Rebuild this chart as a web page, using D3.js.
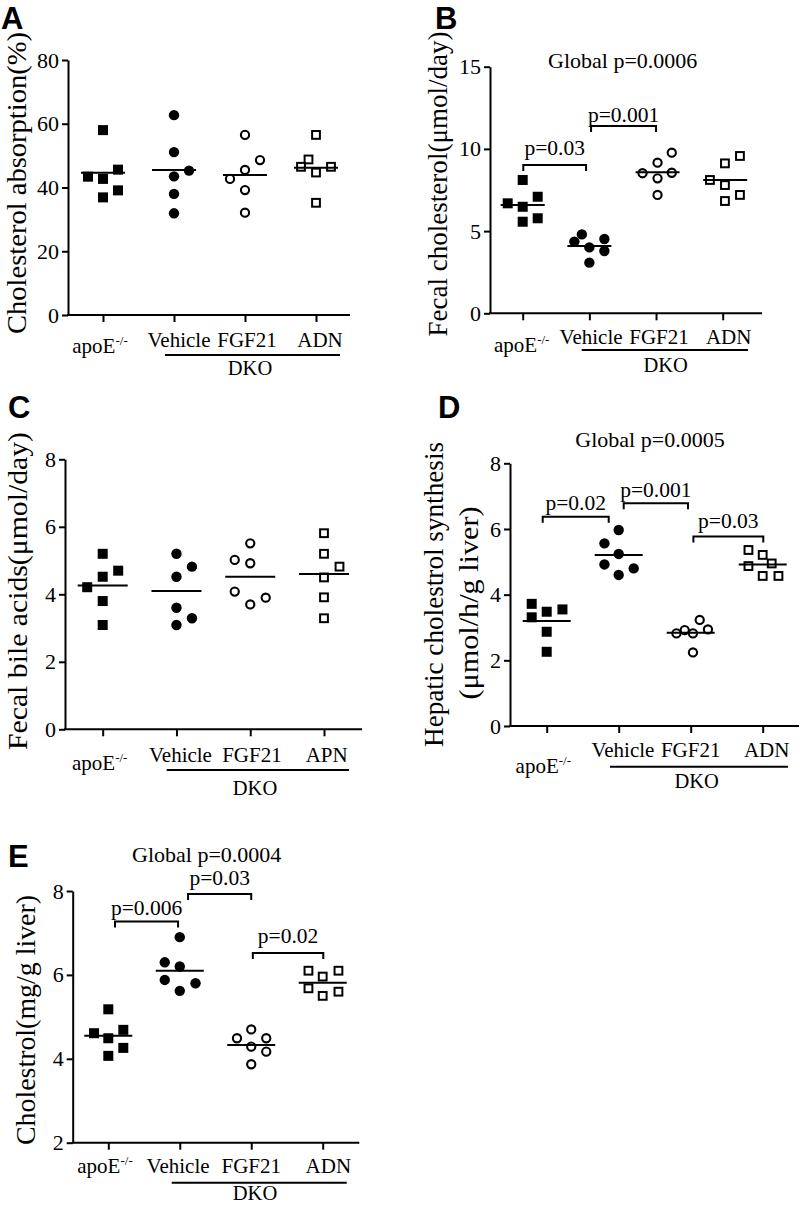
<!DOCTYPE html>
<html><head><meta charset="utf-8">
<script src="https://cdn.jsdelivr.net/npm/d3@7"></script>
<style>
body{margin:0;background:#fff}
svg{display:block}
text{font-family:"Liberation Serif","Times New Roman",serif;fill:#000}
</style>
</head><body>
<svg id="chart" width="800" height="1205"></svg>
<script>
// ---------- DATA ----------
const groups = ["apoE", "Vehicle", "FGF21", "ADN"];
const groupsC = ["apoE", "Vehicle", "FGF21", "APN"];
const dkoLabel = "DKO";

// Panel A: Cholesterol absorption (%)
const absorptionApoE    = [58.0, 45.6, 43.4, 42.7, 39.1, 36.9];
const absorptionVehicle = [62.7, 51.1, 45.3, 43.5, 38.0, 31.9];
const absorptionFGF21   = [56.5, 48.6, 45.5, 42.7, 39.2, 32.1];
const absorptionADN     = [56.5, 48.8, 46.5, 46.5, 44.7, 35.2];
const absorptionMeans   = [44.6, 45.5, 43.9, 46.2];
const ticksA = [0, 20, 40, 60, 80];

// Panel B: Fecal cholesterol (umol/day)
const fecalCholApoE    = [8.11, 7.09, 6.69, 6.48, 5.78, 5.57];
const fecalCholVehicle = [4.80, 4.52, 4.36, 4.01, 3.79, 3.08];
const fecalCholFGF21   = [9.77, 9.16, 8.55, 8.52, 8.21, 7.20];
const fecalCholADN     = [9.57, 9.12, 8.11, 7.80, 7.20, 6.83];
const fecalCholMeans   = [6.59, 4.09, 8.58, 8.11];
const ticksB = [0, 5, 10, 15];
const globalB = "Global p=0.0006";
const bracketPairsB   = [[0, 1], [1, 2]];
const bracketHeightsB = [9.02, 11.39];
const bracketLabelsB  = ["p=0.03", "p=0.001"];

// Panel C: Fecal bile acids (umol/day)
const bileApoE    = [5.20, 4.70, 4.52, 4.21, 3.80, 3.09];
const bileVehicle = [5.20, 4.82, 4.52, 3.60, 3.29, 3.09];
const bileFGF21   = [5.51, 5.02, 4.92, 4.08, 3.90, 3.70];
const bileAPN     = [5.81, 5.20, 4.82, 4.50, 3.91, 3.29];
const bileMeans   = [4.26, 4.10, 4.52, 4.60];
const ticksC = [0, 2, 4, 6, 8];

// Panel D: Hepatic cholesterol synthesis (umol/h/g liver)
const synthApoE    = [3.72, 3.55, 3.48, 3.31, 2.87, 2.26];
const synthVehicle = [5.97, 5.56, 5.24, 4.92, 4.80, 4.60];
const synthFGF21   = [3.23, 2.94, 2.92, 2.82, 2.82, 2.24];
const synthADN     = [5.36, 5.21, 4.95, 4.87, 4.57, 4.57];
const synthMeans   = [3.20, 5.21, 2.84, 4.92];
const ticksD = [0, 2, 4, 6, 8];
const globalD = "Global p=0.0005";
const bracketPairsD   = [[0, 1], [1, 2], [2, 3]];
const bracketHeightsD = [6.375, 6.78, 5.77];
const bracketLabelsD  = ["p=0.02", "p=0.001", "p=0.03"];

// Panel E: Liver cholesterol (mg/g liver)
const liverApoE    = [5.18, 4.69, 4.61, 4.49, 4.26, 4.07];
const liverVehicle = [6.90, 6.30, 6.20, 5.88, 5.80, 5.62];
const liverFGF21   = [4.70, 4.49, 4.49, 4.29, 4.17, 3.87];
const liverADN     = [6.10, 6.10, 5.96, 5.68, 5.60, 5.50];
const liverMeans   = [4.55, 6.10, 4.33, 5.81];
const ticksE = [2, 4, 6, 8];
const globalE = "Global p=0.0004";
const bracketPairsE   = [[0, 1], [1, 2], [2, 3]];
const bracketHeightsE = [7.27, 7.93, 6.52];
const bracketLabelsE  = ["p=0.006", "p=0.03", "p=0.02"];

// ---------- LAYOUT (scatter slots, not data) ----------
const slotsA = [[0,1,-1,0,1,0],[0,0,1,0,0,0],[0,1,0,-1,0,0],[0,-0.5,-1,1,0,0]];
const slotsB = [[0,1,-1,0,1,0],[-0.5,1,-1,0,1,0],[1.05,0.1,1.05,-0.9,0.1,0.1],[1.15,0.15,-0.85,0.15,1.15,0.15]];
const slotsC = [[0,1,0,-1,0,0],[0,1,0,0,1,0],[0,-1,0,-1,1,0],[0,0,1,0,0,0]];
const slotsD = [[-1,1.05,0,-1,0,0],[0,-0.95,0,-0.95,1,0],[0.6,1.15,-0.4,-0.95,0.15,0.15],[-0.95,0,0.6,-0.95,0,1.05]];
const slotsE = [[0,1,-0.95,0,1,0],[0,-1,0,-1,1.05,0],[0,-0.95,1,0,1,0],[-0.95,1.05,0,-0.95,1.05,0]];

const shapes = ["fsq", "fci", "oci", "osq"];
const svg = d3.select("#chart");

function drawPanel(c) {
  const g = svg.append("g");
  const y = d3.scaleLinear().domain(c.yDomain).range([c.yBottom, c.yTop]);
  const x = d3.scalePoint().domain(c.cats).range([c.catFirst, c.catLast]);

  // panel letter
  g.append("text").attr("x", c.letterPos[0]).attr("y", c.letterPos[1])
    .style("font-family", "'Liberation Sans', Arial, sans-serif")
    .style("font-weight", "bold").style("font-size", "31px").text(c.letter);

  // y axis
  const ya = g.append("g").attr("transform", `translate(${c.axisX},0)`)
    .call(d3.axisLeft(y).tickValues(c.ticks).tickFormat(d3.format("d"))
      .tickSize(6).tickSizeOuter(0).tickPadding(3));
  ya.attr("font-size", null).attr("font-family", null);
  ya.select(".domain").attr("stroke", "#000").attr("stroke-width", 2);
  ya.selectAll(".tick line").attr("stroke", "#000").attr("stroke-width", 2);
  ya.selectAll(".tick text").style("font-family", "'Liberation Serif','Times New Roman',serif")
    .style("font-size", "22px").attr("fill", "#000");

  // x axis: baseline + category ticks
  g.append("line").attr("x1", c.axisX - 1).attr("x2", c.axisEnd)
    .attr("y1", c.yBottom).attr("y2", c.yBottom).attr("stroke", "#000").attr("stroke-width", 2);
  const xa = g.append("g").attr("transform", `translate(0,${c.yBottom})`)
    .call(d3.axisBottom(x).tickSize(7).tickFormat(""));
  xa.select(".domain").remove();
  xa.selectAll(".tick line").attr("stroke", "#000").attr("stroke-width", 2);

  // y title
  c.titles.forEach(t => {
    g.append("text")
      .attr("transform", `translate(${t.x},${t.y}) rotate(-90)`)
      .attr("text-anchor", "middle")
      .attr("textLength", t.len).attr("lengthAdjust", "spacingAndGlyphs")
      .style("font-size", t.size + "px").text(t.text);
  });

  // points
  c.series.forEach((vals, i) => {
    const cx0 = x(c.cats[i]);
    const shape = shapes[i];
    vals.forEach((v, j) => {
      const px = cx0 + c.slots[i][j] * c.slotUnit;
      const py = y(v);
      if (shape === "fsq") {
        g.append("rect").attr("x", px - 5).attr("y", py - 5).attr("width", 10).attr("height", 10).attr("fill", "#000");
      } else if (shape === "fci") {
        g.append("circle").attr("cx", px).attr("cy", py).attr("r", 5.2).attr("fill", "#000");
      } else if (shape === "oci") {
        g.append("circle").attr("cx", px).attr("cy", py).attr("r", 4.1).attr("fill", "#fff").attr("stroke", "#000").attr("stroke-width", 2.1);
      } else {
        g.append("rect").attr("x", px - 3.9).attr("y", py - 3.9).attr("width", 7.8).attr("height", 7.8).attr("fill", "#fff").attr("stroke", "#000").attr("stroke-width", 2);
      }
    });
  });

  // mean lines
  c.means.forEach((m, i) => {
    const cx0 = x(c.cats[i]) + (c.meanDx ? c.meanDx[i] : 0);
    g.append("line").attr("x1", cx0 - c.meanHalf).attr("x2", cx0 + c.meanHalf)
      .attr("y1", y(m)).attr("y2", y(m)).attr("stroke", "#000").attr("stroke-width", 2);
  });

  // category labels
  c.cats.forEach((cat, i) => {
    const lx = x(cat) + c.labelDx[i];
    const ly = i === 0 ? c.apoBaseline : c.catBaseline;
    const t = g.append("text").attr("x", lx).attr("y", ly).attr("text-anchor", "middle").style("font-size", "21px");
    if (cat === "apoE") {
      t.append("tspan").text("apoE");
      t.append("tspan").attr("dy", -8).style("font-size", "13px").text("-/-");
    } else {
      t.text(cat);
    }
  });

  // DKO bar
  g.append("line").attr("x1", c.dkoLine[0]).attr("x2", c.dkoLine[1])
    .attr("y1", c.dkoLine[2]).attr("y2", c.dkoLine[2]).attr("stroke", "#000").attr("stroke-width", 2);
  g.append("text").attr("x", c.dkoText[0]).attr("y", c.dkoText[1]).attr("text-anchor", "middle")
    .style("font-size", "20.5px").text(dkoLabel);

  // global p
  if (c.global) {
    g.append("text").attr("x", c.globalPos[0]).attr("y", c.globalPos[1]).attr("text-anchor", "middle")
      .style("font-size", "22px").text(c.global);
  }

  // brackets
  if (c.bracketPairs) {
    c.bracketPairs.forEach((pr, k) => {
      const x1 = x(c.cats[pr[0]]) + c.bracketNudge[k][0];
      const x2 = x(c.cats[pr[1]]) + c.bracketNudge[k][1];
      const yb = y(c.bracketHeights[k]);
      const leg = 6;
      g.append("path").attr("d", `M${x1},${yb + leg}L${x1},${yb}L${x2},${yb}L${x2},${yb + leg}`)
        .attr("fill", "none").attr("stroke", "#000").attr("stroke-width", 2);
      g.append("text").attr("x", (x1 + x2) / 2).attr("y", yb - c.bracketDy[k])
        .attr("text-anchor", "middle").style("font-size", "21.5px").text(c.bracketLabels[k]);
    });
  }
}

drawPanel({
  letter: "A", letterPos: [1, 28.5],
  cats: groups, yDomain: [0, 80], ticks: ticksA,
  axisX: 68, axisEnd: 350, yTop: 60, yBottom: 315,
  catFirst: 103, catLast: 316,
  series: [absorptionApoE, absorptionVehicle, absorptionFGF21, absorptionADN],
  means: absorptionMeans, slots: slotsA, slotUnit: 15, meanHalf: 22,
  titles: [{text: "Cholesterol absorption(%)", x: 26, y: 183, len: 302, size: 27}],
  labelDx: [-3, 5, 2, 4], apoBaseline: 353, catBaseline: 346.5,
  dkoLine: [165, 340, 355], dkoText: [250, 375]
});

drawPanel({
  letter: "B", letterPos: [435, 28.5],
  cats: groups, yDomain: [0, 15], ticks: ticksB,
  axisX: 490, axisEnd: 762, yTop: 66.7, yBottom: 313.3,
  catFirst: 522.7, catLast: 722.7,
  series: [fecalCholApoE, fecalCholVehicle, fecalCholFGF21, fecalCholADN],
  means: fecalCholMeans, slots: slotsB, slotUnit: 15, meanHalf: 22, meanDx: [0, 0, 1.5, 2.5],
  titles: [{text: "Fecal cholesterol(\u03bcmol/day)", x: 447, y: 184, len: 305, size: 27}],
  labelDx: [-1, 1.7, 3, 6], apoBaseline: 351.7, catBaseline: 343.5,
  dkoLine: [581.7, 748, 350], dkoText: [665.7, 371.7],
  global: globalB, globalPos: [622.7, 68],
  bracketPairs: bracketPairsB, bracketHeights: bracketHeightsB, bracketLabels: bracketLabelsB,
  bracketNudge: [[0.6, -3.3], [1.7, 0]], bracketDy: [10, 4.5]
});

drawPanel({
  letter: "C", letterPos: [8, 418],
  cats: groupsC, yDomain: [0, 8], ticks: ticksC,
  axisX: 65, axisEnd: 362, yTop: 459.3, yBottom: 729.3,
  catFirst: 102.7, catLast: 324,
  series: [bileApoE, bileVehicle, bileFGF21, bileAPN],
  means: bileMeans, slots: slotsC, slotUnit: 15.5, meanHalf: 25,
  titles: [{text: "Fecal bile acids(\u03bcmol/day)", x: 27, y: 591, len: 318, size: 28}],
  labelDx: [-3, 4, 1.7, 2.7], apoBaseline: 770, catBaseline: 761.7,
  dkoLine: [166.7, 349, 770], dkoText: [255, 795]
});

drawPanel({
  letter: "D", letterPos: [438, 418],
  cats: groups, yDomain: [0, 8], ticks: ticksD,
  axisX: 510, axisEnd: 799, yTop: 463.3, yBottom: 726,
  catFirst: 546.7, catLast: 762.7,
  series: [synthApoE, synthVehicle, synthFGF21, synthADN],
  means: synthMeans, slots: slotsD, slotUnit: 15, meanHalf: 24,
  titles: [
    {text: "Hepatic cholestrol synthesis", x: 443, y: 594.5, len: 305, size: 27},
    {text: "(\u03bcmol/h/g liver)", x: 478, y: 603, len: 193, size: 28}
  ],
  labelDx: [-3.4, 4.2, 0, 4], apoBaseline: 773.3, catBaseline: 756.7,
  dkoLine: [610, 788, 766.7], dkoText: [696.7, 788.3],
  global: globalD, globalPos: [650, 446.7],
  bracketPairs: bracketPairsD, bracketHeights: bracketHeightsD, bracketLabels: bracketLabelsD,
  bracketNudge: [[-4, -10], [5, -2.7], [2.7, 0.6]], bracketDy: [6.7, 6.6, 8.4]
});

drawPanel({
  letter: "E", letterPos: [8, 867],
  cats: groups, yDomain: [2, 8], ticks: ticksE,
  axisX: 72.7, axisEnd: 359.3, yTop: 891, yBottom: 1142.7,
  catFirst: 108.3, catLast: 322.7,
  series: [liverApoE, liverVehicle, liverFGF21, liverADN],
  means: liverMeans, slots: slotsE, slotUnit: 15, meanHalf: 24,
  titles: [{text: "Cholestrol(mg/g liver)", x: 35, y: 1020, len: 250, size: 28}],
  labelDx: [-3.3, -1.7, 0, 5.6], apoBaseline: 1173.3, catBaseline: 1173.3,
  dkoLine: [171.7, 346.7, 1182.7], dkoText: [255, 1200],
  global: globalE, globalPos: [206.7, 861.7],
  bracketPairs: bracketPairsE, bracketHeights: bracketHeightsE, bracketLabels: bracketLabelsE,
  bracketNudge: [[6.7, -1.7], [8.3, 0], [1.6, 0.6]], bracketDy: [6.7, 9, 10]
});
</script>
</body></html>
